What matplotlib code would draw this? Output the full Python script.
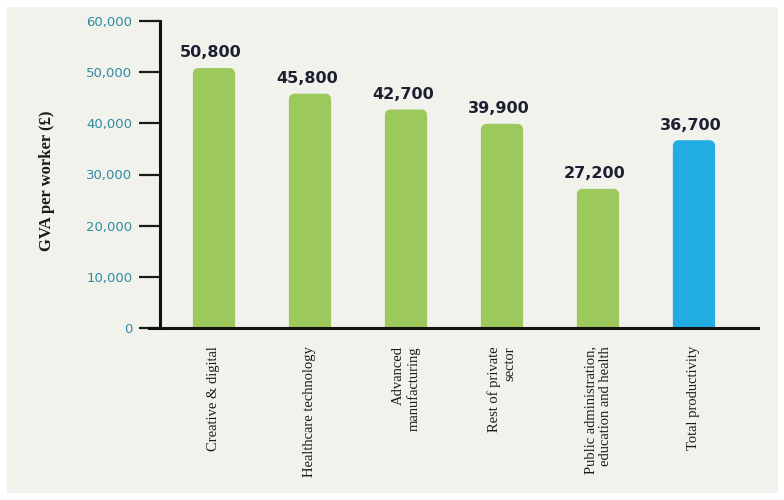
import matplotlib.pyplot as plt
from matplotlib.patches import FancyBboxPatch, Rectangle

# data
categories = ["Creative & digital", "Healthcare technology", "Advanced\nmanufacturing",
              "Rest of private\nsector", "Public administration,\neducation and health",
              "Total productivity"]
gva = [50800, 45800, 42700, 39900, 27200, 36700]
bar_colors = ["#9dc85c"] * 5 + ["#22ade2"]
yticks = [0, 10000, 20000, 30000, 40000, 50000, 60000]

fig = plt.figure(figsize=(7.84, 5.0), dpi=100, facecolor="white")
# light panel behind the chart
fig.add_artist(Rectangle((7 / 784, 7 / 500), 771 / 784, 486 / 500,
                         transform=fig.transFigure, facecolor="#f2f2ec",
                         edgecolor="none", zorder=-10))

ax = fig.add_axes([160 / 784, 1 - 328 / 500, 598 / 784, 307 / 500])
ax.set_facecolor("none")

x = list(range(len(categories)))
bars = ax.bar(x, gva, width=0.44, color=bar_colors)

# swap plain bars for ones with rounded tops
x_per_px = 6.23 / 598
y_per_px = 60000 / 307
for rect, c in zip(bars, bar_colors):
    rect.set_visible(False)
    r = FancyBboxPatch((rect.get_x(), -3000), rect.get_width(), rect.get_height() + 3000,
                       boxstyle="round,pad=0,rounding_size=%f" % (6 * x_per_px),
                       mutation_aspect=y_per_px / x_per_px,
                       facecolor=c, edgecolor="none")
    ax.add_patch(r)

for xi, v in zip(x, gva):
    ax.text(xi - 0.03, v + 1500, f"{v:,}", ha="center", va="bottom",
            fontsize=11.5, fontweight="bold", color="#1c2030")

ax.set_xlim(-0.5625, 5.667)
ax.set_ylim(0, 60000)
ax.set_yticks(yticks)
ax.set_yticklabels([f"{t:,}" for t in yticks], color="#2f8aa3", fontsize=9.5)
ax.tick_params(axis="y", length=15, width=1.6, pad=5, color="#1a1a1a")

ax.set_xticks(x)
ax.set_xticklabels(categories, rotation=90, ha="center", va="top",
                   multialignment="right", fontsize=10.5,
                   family="Liberation Serif", color="#1a1a1a")
ax.tick_params(axis="x", length=0, pad=13)

for s in ["top", "right"]:
    ax.spines[s].set_visible(False)
ax.spines["left"].set_linewidth(2.2)
ax.spines["bottom"].set_linewidth(2.2)
ax.spines["left"].set_color("#111111")
ax.spines["bottom"].set_color("#111111")
ax.spines["bottom"].set_bounds(-0.68, 5.667)

ax.set_ylabel("GVA per worker (£)", family="Liberation Serif", fontweight="bold",
              fontsize=12, color="#1a1a1a")
ax.yaxis.set_label_coords(-0.176, 0.479)

fig.savefig("out.png", dpi=100, facecolor="white")
